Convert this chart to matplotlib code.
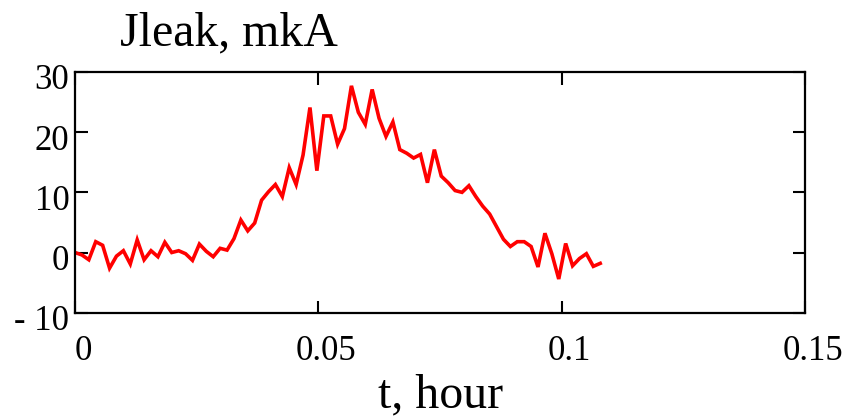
import numpy as np
import matplotlib
matplotlib.use("Agg")
import matplotlib.pyplot as plt
from matplotlib.transforms import ScaledTranslation

# leakage current, mkA, one sample every dt hours
jleak = [0.0, -0.4, -1.2, 1.8, 1.2, -2.6, -0.6, 0.3, -1.9, 2.1,
         -1.2, 0.3, -0.7, 1.7, 0.0, 0.3, -0.2, -1.3, 1.4, 0.2,
         -0.7, 0.7, 0.4, 2.3, 5.4, 3.6, 4.9, 8.7, 10.1, 11.3,
         9.3, 14.1, 11.3, 16.2, 24.1, 13.6, 22.7, 22.7, 18.0, 20.6,
         27.7, 23.3, 21.3, 27.1, 22.3, 19.3, 21.7, 17.1, 16.5, 15.7,
         16.3, 11.6, 17.1, 12.7, 11.6, 10.3, 10.0, 11.1, 9.3, 7.7,
         6.4, 4.3, 2.2, 1.0, 1.8, 1.8, 1.0, -2.4, 3.2, -0.2,
         -4.4, 1.5, -2.2, -1.0, -0.2, -2.3, -1.8]
dt = 0.00142
t = np.arange(len(jleak)) * dt

xticks = [0, 0.05, 0.1, 0.15]
xlabels = ["0", "0.05", "0.1", "0.15"]
yticks = [-10, 0, 10, 20, 30]
ylabels = ["- 10", "0", "10", "20", "30"]

plt.rcParams['font.family'] = ['Liberation Serif', 'DejaVu Serif']

fig = plt.figure(figsize=(8.5, 4.17), dpi=100)
ax = fig.add_axes([75/850, 1 - 312.7/417, 730/850, (312.7 - 72)/417])

ax.plot(t, jleak, color="#ff0000", linewidth=2.6, solid_joinstyle="miter")

ax.set_xlim(0, 0.15)
ax.set_ylim(-10, 30)
ax.set_xticks(xticks)
ax.set_xticklabels(xlabels)
ax.set_yticks(yticks)
ax.set_yticklabels(ylabels)

ax.tick_params(direction="in", length=9, width=1.5, labelsize=25,
               top=True, right=True, color="black")
ax.tick_params(axis="x", pad=16)
ax.tick_params(axis="y", pad=4)
for s in ax.spines.values():
    s.set_linewidth(1.6)

# shift labels a bit, like the original
for lab in ax.get_xticklabels():
    lab.set_transform(lab.get_transform() + ScaledTranslation(0.08, 0, fig.dpi_scale_trans))
for lab in ax.get_yticklabels():
    lab.set_transform(lab.get_transform() + ScaledTranslation(0, -0.05, fig.dpi_scale_trans))

fig.text(120/850, 1 - 45/417, "Jleak, mkA", fontsize=34.5, ha="left", va="baseline")
fig.text(441/850, 1 - 407/417, "t, hour", fontsize=34.5, ha="center", va="baseline")

fig.savefig("out.png", dpi=100)
